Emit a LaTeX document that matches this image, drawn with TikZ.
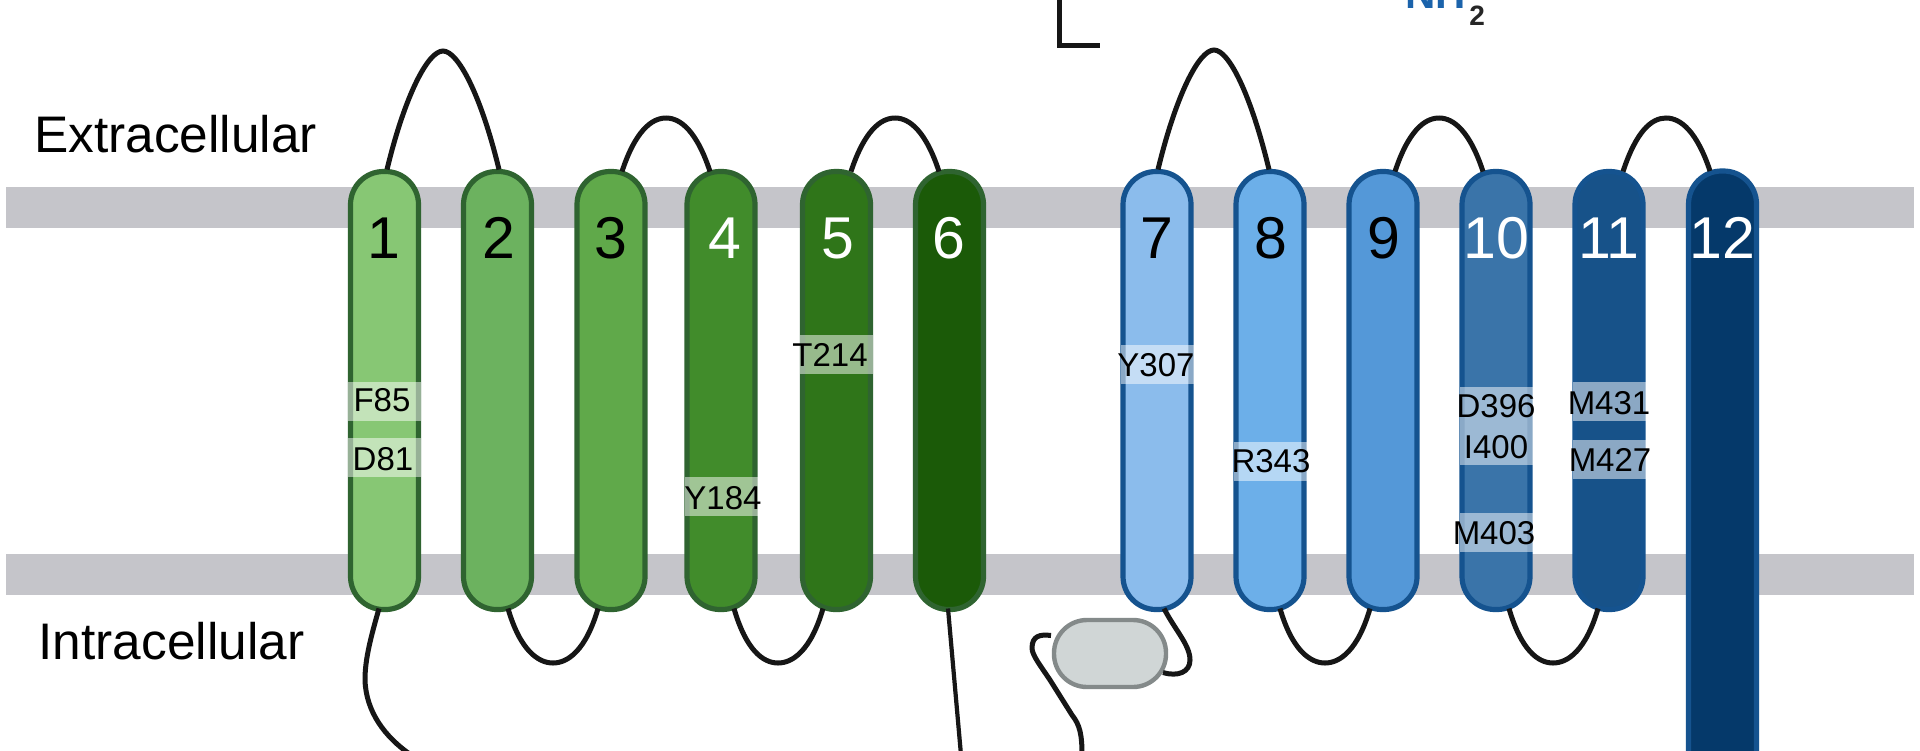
\documentclass[tikz,border=0pt]{standalone}
\usepackage{fontspec}
\setmainfont{Liberation Sans}
\usetikzlibrary{calc}
\definecolor{grA}{HTML}{87C774}\definecolor{grB}{HTML}{6CB25F}\definecolor{grC}{HTML}{60A94A}
\definecolor{grD}{HTML}{418C2B}\definecolor{grE}{HTML}{2F7519}\definecolor{grF}{HTML}{1B5A08}
\definecolor{grLine}{HTML}{2F6430}
\definecolor{blA}{HTML}{8BBCEC}\definecolor{blB}{HTML}{6CAFE9}\definecolor{blC}{HTML}{5498D8}
\definecolor{blD}{HTML}{3A74A9}\definecolor{blE}{HTML}{175289}\definecolor{blF}{HTML}{05396A}
\definecolor{blLine}{HTML}{15538F}
\definecolor{memb}{HTML}{C5C5CA}\definecolor{loopc}{HTML}{161616}
\definecolor{nhblue}{HTML}{1B63AB}
\definecolor{domfill}{HTML}{D0D6D6}\definecolor{domline}{HTML}{848A8A}
\tikzset{
  membrane/.style={fill=memb,draw=none,minimum width=954pt,minimum height=20.5pt,inner sep=0pt,outer sep=0pt},
  helix/.style={rectangle,rounded corners=16.5pt,line width=2.6pt,minimum width=34pt,minimum height=219pt,inner sep=0pt,outer sep=0pt},
  ghelix/.style={helix,fill=#1,draw=grLine},
  bhelix/.style={helix,fill=#1,draw=blLine},
  resband/.style={fill=white,fill opacity=.5,draw=none,minimum width=36.5pt,minimum height=19.5pt,inner sep=0pt,outer sep=0pt},
  residue/.style={font=\fontsize{16.5}{16.5}\selectfont,text=black,inner sep=0pt},
  tmnum/.style={font=\fontsize{29.5}{30}\selectfont,inner sep=0pt},
  side/.style={font=\fontsize{25.7}{26}\selectfont,text=black,inner sep=0pt},
  chain/.style={draw=loopc,line width=2.5pt},
}
\begin{document}
\begin{tikzpicture}[x=.5pt,y=-.5pt]
\useasboundingbox (0,0) rectangle (1920,750);
\clip (0,0) rectangle (1920,750);
\fill[white] (0,0) rectangle (1920,750);
% membranes
\node[membrane] (mtop) at (960,207) {};
\node[membrane] (mbot) at (960,574) {};
% side labels
\node[side] (extra) at (175.5,134) {Extracellular};
\node[side] (intra) at (171.5,641) {Intracellular};
% helices
\node[ghelix=grA] (h1) at (384.5,390.5) {};
\node[ghelix=grB] (h2) at (497.5,390.5) {};
\node[ghelix=grC] (h3) at (611,390.5) {};
\node[ghelix=grD] (h4) at (721,390.5) {};
\node[ghelix=grE] (h5) at (836.5,390.5) {};
\node[ghelix=grF] (h6) at (949.5,390.5) {};
\node[bhelix=blA] (h7) at (1157,390.5) {};
\node[bhelix=blB] (h8) at (1270,390.5) {};
\node[bhelix=blC] (h9) at (1383,390.5) {};
\node[bhelix=blD] (h10) at (1496,390.5) {};
\node[bhelix=blE] (h11) at (1609,390.5) {};
\node[bhelix=blF,minimum height=315pt] (h12) at (1722.5,486) {};
% helix numbers
\node[tmnum,text=black] (n1) at (384,238) {1};
\node[tmnum,text=black] (n2) at (499,238) {2};
\node[tmnum,text=black] (n3) at (611,238) {3};
\node[tmnum,text=white] (n4) at (725,238) {4};
\node[tmnum,text=white] (n5) at (838,238) {5};
\node[tmnum,text=white] (n6) at (949,238) {6};
\node[tmnum,text=black] (n7) at (1157,238) {7};
\node[tmnum,text=black] (n8) at (1271,238) {8};
\node[tmnum,text=black] (n9) at (1384,238) {9};
\node[tmnum,text=white] (n10) at (1496,238) {10};
\node[tmnum,text=white] (n11) at (1609,238) {11};
\node[tmnum,text=white] (n12) at (1722,238) {12};
% residue bands
\node[resband] (bF85) at (384.5,401.5) {};
\node[resband] (bD81) at (384.5,457.5) {};
\node[resband] (bY184) at (721,496) {};
\node[resband] (bT214) at (836.5,354) {};
\node[resband] (bY307) at (1157,364) {};
\node[resband] (bR343) at (1270,461) {};
\node[resband] (bD396) at (1496,406.5) {};
\node[resband] (bI400) at (1496,445.5) {};
\node[resband] (bM403) at (1496,532) {};
\node[resband] (bM431) at (1609,401.5) {};
\node[resband] (bM427) at (1609,459) {};
% residue labels
\node[residue] (F85) at (382,400) {F85};
\node[residue] (D81) at (383,459) {D81};
\node[residue] (Y184) at (723,498) {Y184};
\node[residue] (T214) at (830,355) {T214};
\node[residue] (Y307) at (1156,365) {Y307};
\node[residue] (R343) at (1271,461) {R343};
\node[residue] (D396) at (1496,406) {D396};
\node[residue] (I400) at (1496,447) {I400};
\node[residue] (M403) at (1494,533) {M403};
\node[residue] (M431) at (1609,403) {M431};
\node[residue] (M427) at (1610,460) {M427};
% extracellular loops
\draw[chain] ($(h1.north)+(2.5,-2)$) .. controls (405,95) and (428,51) .. (443,51) .. controls (458,51) and (481,95) .. ($(h2.north)+(1.5,-2)$);
\draw[chain] ($(h3.north)+(11,0)$) .. controls (635,132) and (651,118) .. (666,118) .. controls (681,118) and (697,132) .. ($(h4.north)+(-11,0)$);
\draw[chain] ($(h5.north)+(14.5,0)$) .. controls (864,132) and (880,118) .. (895,118) .. controls (910,118) and (926,132) .. ($(h6.north)+(-10.5,0)$);
\draw[chain] ($(h7.north)+(1,-2)$) .. controls (1176,95) and (1199,50) .. (1214,50) .. controls (1229,50) and (1251,95) .. ($(h8.north)+(-1,-2)$);
\draw[chain] ($(h9.north)+(12,0)$) .. controls (1408,132) and (1424,118) .. (1439,118) .. controls (1454,118) and (1470,132) .. ($(h10.north)+(-13,0)$);
\draw[chain] ($(h11.north)+(14,0)$) .. controls (1636,132) and (1651,118) .. (1666,118) .. controls (1681,118) and (1697,132) .. ($(h12.north)+(-12.5,0)$);
% intracellular loops
\draw[chain] ($(h2.south)+(10.5,-1)$) .. controls (520,650) and (538,663) .. (553,663) .. controls (568,663) and (586,650) .. ($(h3.south)+(-13,-1)$);
\draw[chain] ($(h4.south)+(13,-1)$) .. controls (746,650) and (763,663) .. (778,663) .. controls (793,663) and (811,650) .. ($(h5.south)+(-13.5,-1)$);
\draw[chain] ($(h8.south)+(10,-1)$) .. controls (1292,650) and (1310,663) .. (1325,663) .. controls (1340,663) and (1358,650) .. ($(h9.south)+(-13,-1)$);
\draw[chain] ($(h10.south)+(13,-1)$) .. controls (1521,650) and (1538,663) .. (1553,663) .. controls (1568,663) and (1586,650) .. ($(h11.south)+(-11,-1)$);
% termini and linker
\coordinate (ntail) at (411,755);
\coordinate (tail6) at (961,755);
\draw[chain] ($(h1.south)+(-5.5,-1)$) .. controls (370,640) and (365,660) .. (365,680) .. controls (366,712) and (385,737) .. (ntail);
\draw[chain,line width=2.1pt] ($(h6.south)+(-1.5,-1)$) -- (tail6);
% cytosolic domain
\node[rectangle,rounded corners=16.5pt,fill=domfill,draw=domline,line width=2.2pt,minimum width=56pt,minimum height=33.5pt,inner sep=0pt,outer sep=0pt] (domain) at (1110,653.5) {};
\coordinate (tail7) at (1082,755);
\draw[chain] ($(h7.south)+(7,-1)$) .. controls (1175,630) and (1190,645) .. (1190,660) .. controls (1190,672) and (1178,677) .. ($(domain.east)+(-3,19)$);
\draw[chain] ($(domain.west)+(-3,-18)$) .. controls (1040,634) and (1032,636) .. (1032,648) .. controls (1032,655) and (1040,665) .. (1050,680) -- (1072,715) .. controls (1080,725) and (1082,735) .. (tail7);
% top fragments
\coordinate (cornerA) at (1059,-6);
\coordinate (cornerB) at (1059,45);
\coordinate (cornerC) at (1100,45);
\draw[chain] (cornerA) -- (cornerB) -- (cornerC);
\node[anchor=base west,inner sep=0pt,text=nhblue,font=\fontsize{21}{21}\bfseries\selectfont] (nh) at (1405,8) {NH};
\node[anchor=base west,inner sep=0pt,text=black!85,font=\fontsize{14}{14}\bfseries\selectfont] (two) at (1469,25) {2};
\end{tikzpicture}
\end{document}
